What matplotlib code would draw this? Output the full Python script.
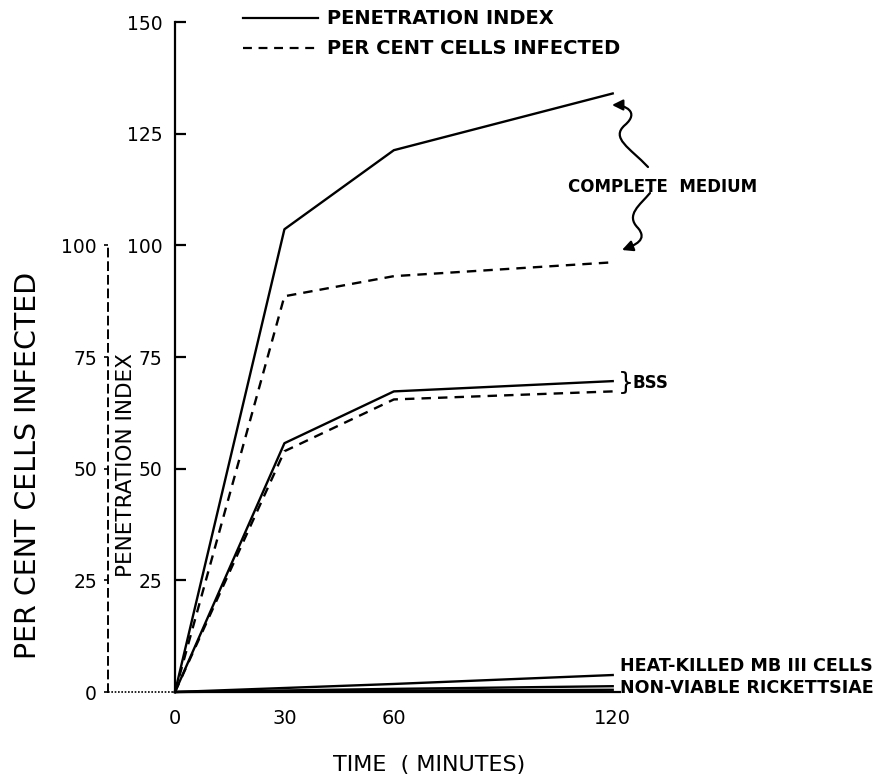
import matplotlib
matplotlib.use("Agg")
import matplotlib.pyplot as plt
from matplotlib.path import Path
from matplotlib.patches import FancyArrowPatch

# ---- data ----
time_min = [0, 30, 60, 120]
cm_penetration = [0, 103.6, 121.3, 134.0]
cm_infected = [0, 88.6, 93.1, 96.2]
bss_penetration = [0, 55.7, 67.3, 69.6]
bss_infected = [0, 53.9, 65.5, 67.3]
heat_killed = [0, 0.9, 1.8, 3.8]
nonviable_pen = [0, 0.35, 0.7, 1.3]
nonviable_inf = [0, 0.15, 0.3, 0.5]
x_ticks = [0, 30, 60, 120]
y_ticks_main = [25, 50, 75, 100, 125, 150]
y_ticks_left = [0, 25, 50, 75, 100]

W, H = 881, 776
plt.rcParams['font.family'] = ['DejaVu Sans']
fig = plt.figure(figsize=(W / 100, H / 100), dpi=100)

def fx(px):
    return px / W

def fy(py):
    return 1 - py / H

x0_px, x1_px = 175, 620
y0_px, y1_px = 692, 22
ax = fig.add_axes([fx(x0_px), fy(y0_px), fx(x1_px - x0_px), (y0_px - y1_px) / H])
ax.set_xlim(0, 122)
ax.set_ylim(0, 150)

lw = 1.7
dash = (0, (4, 3))
ax.plot(time_min, cm_penetration, color='black', lw=lw, clip_on=False)
ax.plot(time_min, cm_infected, color='black', lw=lw, ls=dash, clip_on=False)
ax.plot(time_min, bss_penetration, color='black', lw=lw, clip_on=False)
ax.plot(time_min, bss_infected, color='black', lw=lw, ls=dash, clip_on=False)
ax.plot(time_min, heat_killed, color='black', lw=lw, clip_on=False)
ax.plot(time_min, nonviable_pen, color='black', lw=lw, clip_on=False)
ax.plot(time_min, nonviable_inf, color='black', lw=lw, clip_on=False)

for s in ['top', 'right']:
    ax.spines[s].set_visible(False)
ax.spines['left'].set_linewidth(1.6)
ax.spines['bottom'].set_linewidth(1.6)
ax.set_xticks(x_ticks)
ax.set_xticklabels([str(v) for v in x_ticks])
ax.tick_params(axis='x', length=0, pad=12, labelsize=14)
ax.set_yticks(y_ticks_main)
ax.set_yticklabels([str(v) for v in y_ticks_main])
ax.tick_params(axis='y', direction='in', length=8, width=1.6, pad=9, labelsize=13.5)
ax.patch.set_alpha(0)

# secondary dashed axis (per cent cells infected)
ax2 = fig.add_axes([fx(108), fy(y0_px), fx(10), (y0_px - y1_px) / H])
ax2.set_ylim(0, 150)
ax2.set_xlim(0, 1)
for s in ['top', 'right', 'bottom']:
    ax2.spines[s].set_visible(False)
ax2.spines['left'].set_linestyle(dash)
ax2.spines['left'].set_linewidth(1.4)
ax2.spines['left'].set_bounds(0, 100)
ax2.set_xticks([])
ax2.set_yticks(y_ticks_left)
ax2.set_yticklabels([str(v) for v in y_ticks_left])
ax2.tick_params(axis='y', direction='out', length=3, width=1.2, pad=5, labelsize=13.5)
ax2.patch.set_alpha(0)
# dotted baseline joining the two axes
fig.add_artist(plt.Line2D([fx(108), fx(175)], [fy(692), fy(692)], color='black',
                          lw=1.2, ls=(0, (1, 1))))

# axis titles
fig.text(fx(28), fy(465), 'PER CENT CELLS INFECTED', rotation=90, ha='center',
         va='center', fontsize=20.5)
fig.text(fx(126), fy(465), 'PENETRATION INDEX', rotation=90, ha='center',
         va='center', fontsize=15.5)
fig.text(fx(429), fy(765), 'TIME  ( MINUTES)', ha='center', va='center', fontsize=16)

# legend
fig.add_artist(plt.Line2D([fx(243), fx(318)], [fy(18), fy(18)], color='black', lw=1.6))
fig.add_artist(plt.Line2D([fx(243), fx(318)], [fy(48), fy(48)], color='black', lw=1.6,
                          ls=dash))
fig.text(fx(327), fy(18), 'PENETRATION INDEX', ha='left', va='center', fontsize=14,
         fontweight='bold')
fig.text(fx(327), fy(48), 'PER CENT CELLS INFECTED', ha='left', va='center', fontsize=14,
         fontweight='bold')

# annotations
fig.text(fx(663), fy(187), 'COMPLETE  MEDIUM', ha='center', va='center', fontsize=12,
         fontweight='bold')
fig.text(fx(618), fy(383), '}', ha='left', va='center', fontsize=18)
fig.text(fx(632), fy(383), 'BSS', ha='left', va='center', fontsize=12, fontweight='bold')
fig.text(fx(620), fy(666), 'HEAT-KILLED MB III CELLS', ha='left', va='center',
         fontsize=12.6, fontweight='bold')
fig.text(fx(620), fy(688), 'NON-VIABLE RICKETTSIAE', ha='left', va='center',
         fontsize=12.6, fontweight='bold')

def wavy(points):
    verts = [(fx(x), fy(y)) for x, y in points]
    codes = [Path.MOVETO] + [Path.CURVE4] * (len(verts) - 1)
    p = FancyArrowPatch(path=Path(verts, codes), transform=fig.transFigure,
                        arrowstyle='-|>,head_length=4,head_width=2', color='black',
                        lw=1.6, mutation_scale=1.6)
    fig.add_artist(p)

wavy([(648, 167), (630, 148), (610, 138), (625, 125),
      (640, 112), (625, 105), (612, 105)])
wavy([(650, 193), (640, 205), (625, 215), (638, 228),
      (648, 240), (635, 245), (622, 250)])

fig.savefig('out.png', dpi=100)
